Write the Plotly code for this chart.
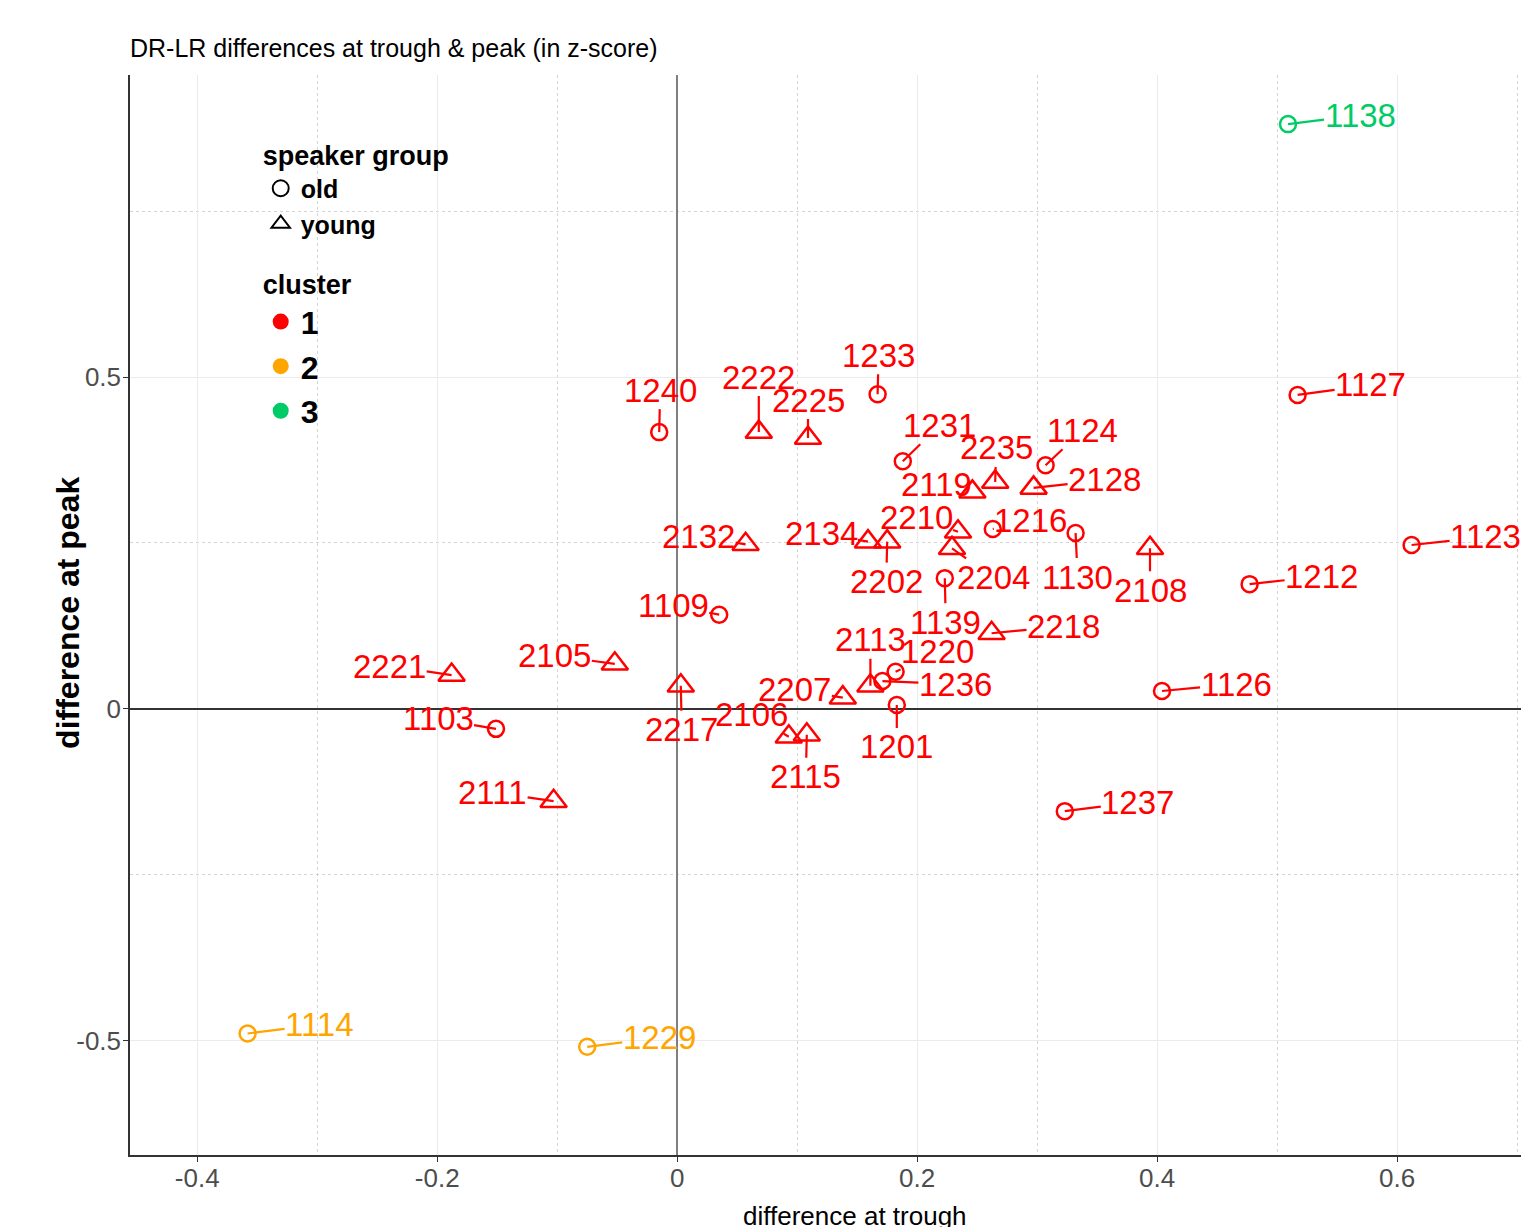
import plotly.graph_objects as go

# ---------------- data ----------------
speakers = ["1138", "1127", "1123", "1212", "1126", "1237", "1114", "1229",
            "1240", "1233", "1231", "1124", "1216", "1130", "1139", "1109",
            "1103", "1220", "1236", "1201",
            "2222", "2225", "2235", "2119", "2128", "2210", "2134", "2202",
            "2204", "2108", "2132", "2221", "2105", "2111", "2217", "2106",
            "2115", "2207", "2113", "2218"]
trough = [0.509, 0.517, 0.612, 0.477, 0.404, 0.323, -0.358, -0.075,
          -0.015, 0.167, 0.188, 0.307, 0.263, 0.332, 0.223, 0.035,
          -0.151, 0.182, 0.171, 0.183,
          0.068, 0.109, 0.265, 0.246, 0.297, 0.234, 0.159, 0.175,
          0.229, 0.394, 0.057, -0.188, -0.052, -0.103, 0.003, 0.093,
          0.108, 0.138, 0.161, 0.262]
peak = [0.881, 0.473, 0.247, 0.188, 0.027, -0.154, -0.489, -0.509,
        0.417, 0.474, 0.373, 0.367, 0.271, 0.265, 0.197, 0.142,
        -0.030, 0.056, 0.042, 0.006,
        0.417, 0.408, 0.342, 0.327, 0.333, 0.267, 0.252, 0.252,
        0.242, 0.242, 0.248, 0.051, 0.068, -0.139, 0.035, -0.042,
        -0.039, 0.017, 0.035, 0.114]
group = ["old"] * 20 + ["young"] * 20
cluster = [3, 1, 1, 1, 1, 1, 2, 2,
           1, 1, 1, 1, 1, 1, 1, 1,
           1, 1, 1, 1,
           1, 1, 1, 1, 1, 1, 1, 1,
           1, 1, 1, 1, 1, 1, 1, 1,
           1, 1, 1, 1]

x_tickvals = [-0.4, -0.2, 0, 0.2, 0.4, 0.6]
x_ticktext = ["-0.4", "-0.2", "0", "0.2", "0.4", "0.6"]
y_tickvals = [-0.5, 0, 0.5]
y_ticktext = ["-0.5", "0", "0.5"]

# ---------------- styling / layout (not data) ----------------
colors = {1: "#FF0000", 2: "#FFA500", 3: "#00CC66"}
symbols = {"old": "circle-open", "young": "triangle-up-open"}
sizes = {"old": 16, "young": 23}
# label offsets in pixels (repelled label placement)
label_offsets = {
    "1138": (72, -9), "1127": (73, -10), "1123": (74, -8), "1212": (72, -8),
    "1126": (74, -7), "1237": (73, -9), "1114": (72, -9), "1229": (72, -9),
    "1240": (1, -42), "1233": (1, -39), "1231": (37, -36), "1124": (37, -35),
    "1216": (38, -9), "1130": (2, 44), "1139": (1, 44), "1109": (-46, -9),
    "1103": (-58, -10), "1220": (42, -20), "1236": (73, 3), "1201": (0, 42),
    "2222": (0, -55), "2225": (0, -38), "2235": (1, -34), "2119": (-36, -7),
    "2128": (71, -8), "2210": (-42, -14), "2134": (-47, -8), "2202": (-1, 40),
    "2204": (41, 29), "2108": (0, 42), "2132": (-47, -8), "2221": (-62, -9),
    "2105": (-60, -8), "2111": (-61, -9), "2217": (1, 44), "2106": (-37, -22),
    "2115": (-1, 42), "2207": (-48, -8), "2113": (0, -46), "2218": (72, -7),
}

FONT = "Liberation Sans, Arial, sans-serif"
W, H = 1521, 1219   # page body adds an 8px offset

fig = go.Figure()

for cl in [1, 2, 3]:
    for g in ["old", "young"]:
        idx = [i for i in range(len(speakers)) if cluster[i] == cl and group[i] == g]
        if not idx:
            continue
        fig.add_trace(go.Scatter(
            x=[trough[i] for i in idx],
            y=[peak[i] for i in idx],
            mode="markers",
            marker=dict(symbol=symbols[g], size=sizes[g], color=colors[cl],
                        line=dict(width=2.5, color=colors[cl])),
            showlegend=False,
            hoverinfo="text",
            text=[speakers[i] for i in idx],
        ))

# legend: speaker group
for g in ["old", "young"]:
    fig.add_trace(go.Scatter(
        x=[None], y=[None], mode="markers", name=g,
        marker=dict(symbol=symbols[g], size=16, color="black",
                    line=dict(width=2, color="black")),
        legend="legend",
    ))
# legend: cluster
for cl in [1, 2, 3]:
    fig.add_trace(go.Scatter(
        x=[None], y=[None], mode="markers", name=str(cl),
        marker=dict(symbol="circle", size=18, color=colors[cl]),
        legend="legend2",
    ))

# labels with connector segments
for i, s in enumerate(speakers):
    ax, ay = label_offsets[s]
    fig.add_annotation(
        x=trough[i], y=peak[i], text=s,
        showarrow=True, arrowhead=0, arrowwidth=2.2,
        arrowcolor=colors[cluster[i]], standoff=0, startstandoff=0,
        ax=ax, ay=ay, borderpad=0,
        font=dict(family=FONT, size=33, color=colors[cluster[i]]),
    )

# axis titles
fig.add_annotation(xref="paper", yref="paper", x=-0.0443, y=0.502,
                   text="<b>difference at peak</b>", textangle=-90, showarrow=False,
                   xanchor="center", yanchor="middle",
                   font=dict(family=FONT, size=32, color="black"))
fig.add_annotation(xref="paper", yref="paper", x=0.5186, y=-0.0405,
                   text="difference at trough", showarrow=False,
                   xanchor="center", yanchor="top",
                   font=dict(family=FONT, size=26, color="black"))

fig.update_layout(
    width=W, height=H,
    margin=dict(l=122, r=1, t=67, b=72),
    paper_bgcolor="white", plot_bgcolor="white",
    title=dict(text="DR-LR differences at trough &amp; peak (in z-score)",
               x=122 / W, xanchor="left", y=1 - 40 / H, yanchor="middle",
               font=dict(family=FONT, size=25, color="black")),
    xaxis=dict(
        range=[-0.456, 0.709], tickvals=x_tickvals, ticktext=x_ticktext,
        automargin=False,
        showgrid=True, gridcolor="#ebebeb", gridwidth=1,
        minor=dict(dtick=0.1, tick0=0, showgrid=True, gridcolor="#d4d4d4",
                   griddash="dot", gridwidth=1),
        zeroline=True, zerolinecolor="#7f7f7f", zerolinewidth=2,
        showline=True, linecolor="#333333", linewidth=1.5,
        ticks="outside", ticklen=5, tickcolor="#333333",
        ticklabelstandoff=-6,
        tickfont=dict(family=FONT, size=26, color="#4d4d4d"),
    ),
    yaxis=dict(
        range=[-0.672, 0.955], tickvals=y_tickvals, ticktext=y_ticktext,
        automargin=False,
        showgrid=True, gridcolor="#ebebeb", gridwidth=1,
        minor=dict(dtick=0.25, tick0=0, showgrid=True, gridcolor="#d4d4d4",
                   griddash="dot", gridwidth=1),
        zeroline=True, zerolinecolor="#333333", zerolinewidth=1.5,
        showline=True, linecolor="#333333", linewidth=1.5,
        ticks="outside", ticklen=5, tickcolor="#333333",
        ticklabelstandoff=-3,
        tickfont=dict(family=FONT, size=26, color="#4d4d4d"),
    ),
    legend=dict(
        x=0.0935, y=0.9487, xanchor="left", yanchor="top",
        title=dict(text="<b>speaker group</b>", font=dict(family=FONT, size=27, color="black")),
        font=dict(family=FONT, size=25, color="black", weight="bold"),
        bgcolor="rgba(0,0,0,0)", itemwidth=30, tracegroupgap=0,
    ),
    legend2=dict(
        x=0.0935, y=0.8295, xanchor="left", yanchor="top",
        title=dict(text="<b>cluster</b>", font=dict(family=FONT, size=27, color="black")),
        font=dict(family=FONT, size=32, color="black", weight="bold"),
        bgcolor="rgba(0,0,0,0)", itemwidth=30, tracegroupgap=0,
    ),
)

fig.write_html("out.html")
